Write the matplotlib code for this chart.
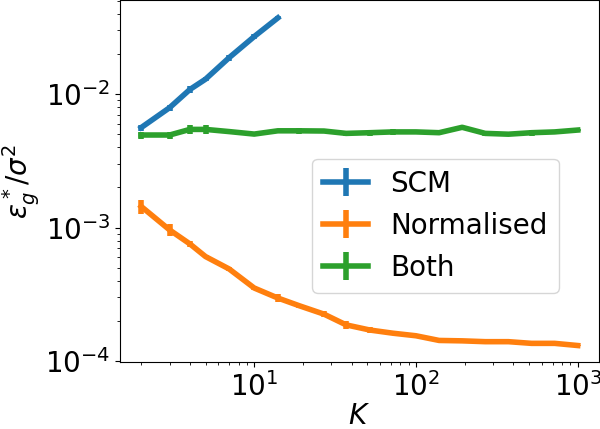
import matplotlib
matplotlib.use("Agg")
import matplotlib.pyplot as plt

K = [2, 3, 4, 5, 7, 10, 14, 19, 27, 37, 52, 72, 100, 139, 193, 268, 373, 518, 720, 1000]

scm_K = [2, 3, 4, 5, 7, 10, 14]
scm = [5.6e-3, 7.9e-3, 1.08e-2, 1.29e-2, 1.87e-2, 2.69e-2, 3.71e-2]
scm_err = [3e-4, 4e-4, 6e-4, 4e-4, 9e-4, 1.2e-3, 1.0e-3]

norm = [1.44e-3, 9.6e-4, 7.55e-4, 6.07e-4, 4.9e-4, 3.53e-4, 2.97e-4, 2.6e-4,
        2.25e-4, 1.87e-4, 1.71e-4, 1.62e-4, 1.55e-4, 1.43e-4, 1.42e-4,
        1.40e-4, 1.40e-4, 1.36e-4, 1.36e-4, 1.31e-4]
norm_err = [1.8e-4, 1.0e-4, 4e-5, 2e-5, 1.5e-5, 1e-5, 2e-5, 8e-6,
            1.2e-5, 1.2e-5, 8e-6, 4e-6, 3e-6, 2e-6, 2e-6,
            2e-6, 2e-6, 2e-6, 2e-6, 2e-6]

both = [4.93e-3, 4.93e-3, 5.43e-3, 5.43e-3, 5.23e-3, 5.01e-3, 5.3e-3, 5.3e-3,
        5.28e-3, 5.07e-3, 5.13e-3, 5.2e-3, 5.2e-3, 5.13e-3, 5.63e-3,
        5.07e-3, 5.0e-3, 5.13e-3, 5.2e-3, 5.37e-3]
both_err = [3e-4, 3e-4, 4e-4, 4e-4, 1e-4, 1e-4, 1e-4, 3e-4,
            1e-4, 2.5e-4, 2.5e-4, 3e-4, 1e-4, 1e-4, 1e-4,
            2.5e-4, 1e-4, 2.5e-4, 1e-4, 1e-4]

fig = plt.figure(figsize=(6, 4.29), dpi=100)
ax = fig.add_axes([0.2, 0.156, 0.798, 0.844])

lw = 4
ax.errorbar(scm_K, scm, yerr=scm_err, lw=lw, elinewidth=lw, label='SCM')
ax.errorbar(K, norm, yerr=norm_err, lw=lw, elinewidth=lw, label='Normalised')
ax.errorbar(K, both, yerr=both_err, lw=lw, elinewidth=lw, label='Both')

ax.set_xscale('log')
ax.set_yscale('log')
ax.set_xlim(1.48, 1350)
ax.set_ylim(9.85e-5, 0.0505)
ax.tick_params(labelsize=20)
ax.set_xlabel(r'$K$', fontsize=20, labelpad=0)
ax.set_ylabel(r'$\epsilon_g^*/\sigma^2$', fontsize=20, labelpad=2)
ax.legend(fontsize=20, loc='center right', bbox_to_anchor=(0.945, 0.376),
          handlelength=1.6)

plt.savefig('out.png', dpi=100)
plt.close()
